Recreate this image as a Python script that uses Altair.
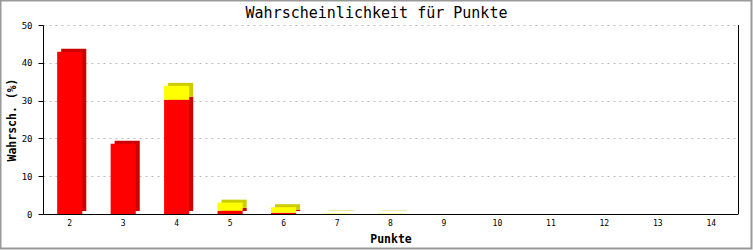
import altair as alt
import pandas as pd

punkte = [2, 3, 4, 5, 6, 7, 8, 9, 10, 11, 12, 13, 14]
rot = [42.9, 18.6, 30.2, 0.85, 0.35, 0, 0, 0, 0, 0, 0, 0, 0]
gelb = [0, 0, 3.7, 2.15, 1.45, 0.12, 0.1, 0, 0, 0, 0, 0, 0]
y_ticks = [0, 10, 20, 30, 40, 50]

rows = []
for p, r, g in zip(punkte, rot, gelb):
    rows.append({"Punkte": p, "serie": "a", "ord": 0, "wert": r})
    rows.append({"Punkte": p, "serie": "b", "ord": 1, "wert": g})
df = pd.DataFrame(rows)

W, H = 695, 189
MONO = "DejaVu Sans Mono"

xenc = alt.X("Punkte:O", scale=alt.Scale(paddingInner=0.53, paddingOuter=0.265),
             axis=alt.Axis(title="Punkte", labelAngle=0, ticks=False, domainColor="black",
                           labelFont=MONO, labelFontSize=8, labelPadding=5,
                           titleFont=MONO, titleFontSize=11.5, titleFontWeight="bold",
                           titlePadding=6, labelColor="black", titleColor="black"))
yenc = alt.Y("wert:Q", stack="zero", scale=alt.Scale(domain=[0, 50], nice=False),
             axis=alt.Axis(title="Wahrsch. (%)", values=y_ticks, grid=True,
                           gridColor="#bbbbbb", gridDash=[2, 4], domainColor="black",
                           tickColor="black", tickSize=5, labelPadding=6,
                           labelFont=MONO, labelFontSize=9, labelColor="black",
                           titleFont=MONO, titleFontSize=11.5, titleFontWeight="bold",
                           titleColor="black", titlePadding=4))

base = alt.Chart(df)
shadow = base.mark_bar(xOffset=4, yOffset=-3).encode(
    x=xenc, y=yenc,
    fill=alt.Fill("serie:N", scale=alt.Scale(domain=["a", "b"], range=["#cc0000", "#cccc00"]), legend=None),
    order=alt.Order("ord:Q"),
)
front = base.mark_bar().encode(
    x=xenc, y=yenc,
    color=alt.Color("serie:N", scale=alt.Scale(domain=["a", "b"], range=["#ff0000", "#ffff00"]), legend=None),
    order=alt.Order("ord:Q"),
)

deko = alt.Chart(alt.Data(values=[{"k": 0}]))
right_line = deko.mark_rule(color="black", strokeWidth=1).encode(
    x=alt.value(W + 0.5), y=alt.value(0), y2=alt.value(H))
frame = deko.mark_rect(fill=None, stroke="#999999", strokeWidth=2, clip=False).encode(
    x=alt.value(-42.5), x2=alt.value(751.5 - 43), y=alt.value(-24.5), y2=alt.value(248.5 - 25))
title = deko.mark_text(text="Wahrscheinlichkeit für Punkte", font=MONO, fontSize=15,
                       align="center", baseline="middle", color="black").encode(
    x=alt.value(376.5 - 43), y=alt.value(13 - 25))

chart = alt.layer(shadow, front, right_line, frame, title).resolve_scale(
    color="independent", fill="independent"
).properties(
    width=W, height=H,
    autosize=alt.AutoSizeParams(type="none"),
    padding={"left": 43, "top": 25, "right": 15, "bottom": 36},
    background="white",
).configure_view(stroke=None)

chart.save("out.html", embed_options={"renderer": "svg", "actions": False})
